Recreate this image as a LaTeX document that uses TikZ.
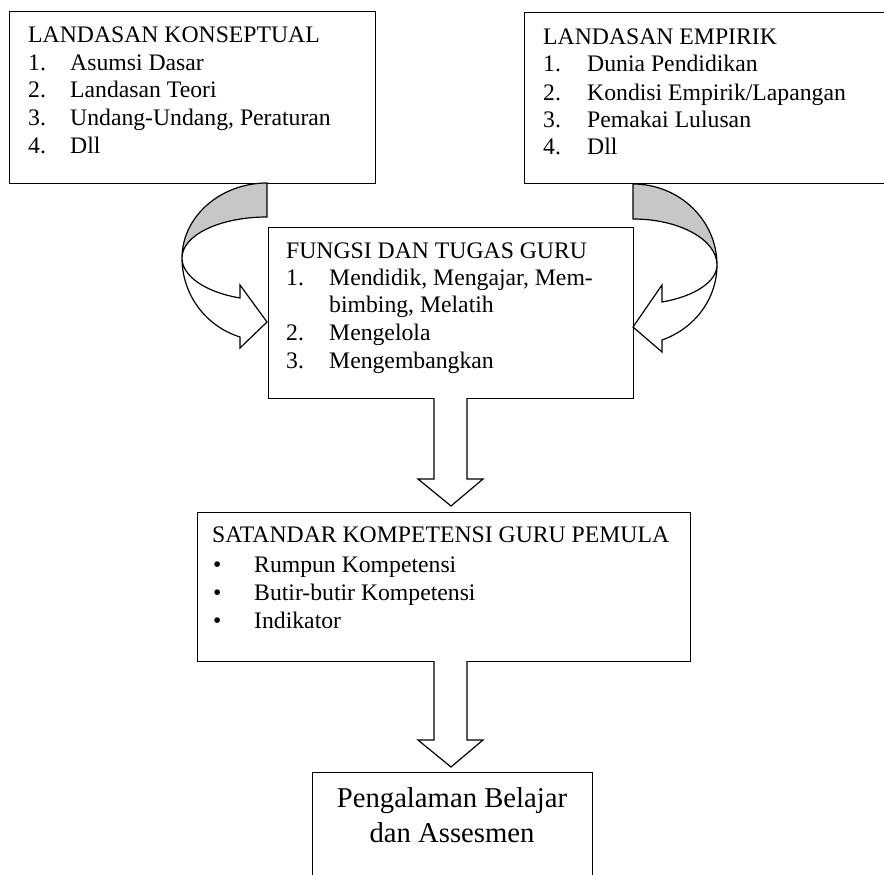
\documentclass[tikz,border=0pt]{standalone}
\usepackage{fontspec}
\setmainfont{Liberation Serif}
\begin{document}
\begin{tikzpicture}[x=1pt,y=1pt,
  box/.style={draw=black, line width=1.3pt, fill=white, inner sep=0pt, anchor=north west},
  txt/.style={inner sep=0pt, anchor=base west, font=\fontsize{23.7}{28}\selectfont},
  bigtxt/.style={inner sep=0pt, anchor=base, font=\fontsize{28.7}{34}\selectfont},
  barrow/.style={draw=black, line width=1.2pt, fill=white, line join=miter},
  band/.style={draw=black, line width=1.2pt, fill=black!22},
  front/.style={draw=black, line width=1.2pt, fill=white, line join=miter}]
\path[use as bounding box] (0,0) rectangle (884,-875);
\clip (0,0) rectangle (884,-875);

% boxes
\node[box, minimum width=366pt, minimum height=172pt] (konsep) at (9,-11) {};
\node[box, minimum width=370pt, minimum height=171pt] (empirik) at (524,-12) {};
\node[box, minimum width=365pt, minimum height=171pt] (fungsi) at (268,-227) {};
\node[box, minimum width=493pt, minimum height=149pt] (standar) at (197,-512) {};
\node[box, minimum width=280pt, minimum height=130pt] (belajar) at (312,-772) {};

% left curved arrow
\path[band] (267,-183) .. controls (220,-183) and (182,-217) .. (182,-258)
  .. controls (182,-235) and (220,-217) .. (267,-217) -- cycle;
\path[front] (182,-258) .. controls (182,-276) and (205,-292) .. (240,-298)
  -- (240,-285) -- (267,-322) -- (240,-348) -- (240,-337)
  .. controls (205,-326) and (182,-294) .. (182,-258) -- cycle;

% right curved arrow
\path[band] (633,-184) .. controls (679.4,-184) and (717,-220.3) .. (717,-265)
  .. controls (717,-239.6) and (679.4,-219) .. (633,-219) -- cycle;
\path[front] (717,-265) .. controls (717,-281.5) and (695,-296.3) .. (662,-302)
  -- (662,-285) -- (633,-327) -- (662,-352) -- (662,-340)
  .. controls (695,-328.4) and (717,-298.5) .. (717,-265) -- cycle;

% down block arrows
\path[barrow] (434,-398) -- (434,-479) -- (418,-479) -- (451,-506) -- (483,-479) -- (467,-479) -- (467,-398);
\path[barrow] (434,-661) -- (434,-740) -- (418,-740) -- (451,-767) -- (483,-740) -- (467,-740) -- (467,-661);

% texts: konseptual
\node[txt] (k0) at (28,-43) {LANDASAN KONSEPTUAL};
\node[txt] (k1n) at (28,-70.5) {1.};
\node[txt] (k1) at (70,-70.5) {Asumsi Dasar};
\node[txt] (k2n) at (28,-98) {2.};
\node[txt] (k2) at (70,-98) {Landasan Teori};
\node[txt] (k3n) at (28,-125.5) {3.};
\node[txt] (k3) at (70,-125.5) {Undang-Undang, Peraturan};
\node[txt] (k4n) at (28,-153) {4.};
\node[txt] (k4) at (70,-153) {Dll};

% texts: empirik
\node[txt] (e0) at (543,-45) {LANDASAN EMPIRIK};
\node[txt] (e1n) at (543,-72) {1.};
\node[txt] (e1) at (587,-72) {Dunia Pendidikan};
\node[txt] (e2n) at (543,-100) {2.};
\node[txt] (e2) at (587,-100) {Kondisi Empirik/Lapangan};
\node[txt] (e3n) at (543,-127) {3.};
\node[txt] (e3) at (587,-127) {Pemakai Lulusan};
\node[txt] (e4n) at (543,-154) {4.};
\node[txt] (e4) at (587,-154) {Dll};

% texts: fungsi
\node[txt] (f0) at (286,-258) {FUNGSI DAN TUGAS GURU};
\node[txt] (f1n) at (286,-285) {1.};
\node[txt] (f1) at (329,-285) {Mendidik, Mengajar, Mem-};
\node[txt] (f1b) at (329,-312) {bimbing, Melatih};
\node[txt] (f2n) at (286,-340) {2.};
\node[txt] (f2) at (329,-340) {Mengelola};
\node[txt] (f3n) at (286,-368) {3.};
\node[txt] (f3) at (329,-368) {Mengembangkan};

% texts: standar
\node[txt] (s0) at (212,-542) {SATANDAR KOMPETENSI GURU PEMULA};
\node[txt] (s1b) at (213,-572) {\textbullet};
\node[txt] (s1) at (254,-572) {Rumpun Kompetensi};
\node[txt] (s2b) at (213,-600) {\textbullet};
\node[txt] (s2) at (254,-600) {Butir-butir Kompetensi};
\node[txt] (s3b) at (213,-628) {\textbullet};
\node[txt] (s3) at (254,-628) {Indikator};

% texts: pengalaman
\node[bigtxt] (p1) at (452,-807) {Pengalaman Belajar};
\node[bigtxt] (p2) at (452,-842) {dan Assesmen};
\end{tikzpicture}
\end{document}
